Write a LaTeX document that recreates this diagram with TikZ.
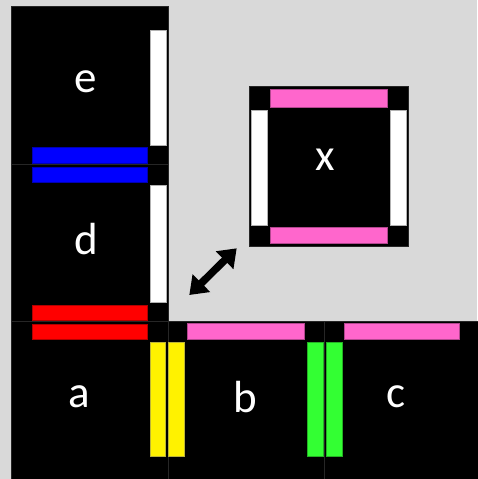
\documentclass[tikz,border=0pt]{standalone}
\usepackage{fontspec}
\setmainfont{Carlito}
\usetikzlibrary{arrows.meta}
\definecolor{bggray}{HTML}{D9D9D9}
\definecolor{pinkbar}{HTML}{FF66CC}
\definecolor{greenbar}{HTML}{33FF33}
\definecolor{edgegray}{HTML}{262626}
\tikzset{
  region/.style={fill=black, draw=edgegray, line width=0.6pt, inner sep=0pt},
  lbl/.style={text=white, font=\fontsize{45}{45}\selectfont, inner sep=0pt},
  bar/.style={fill=#1, draw=#1!70!black, line width=0.6pt},
  dblarrow/.style={line width=7.5pt, {Triangle[length=17pt,width=24pt]}-{Triangle[length=17pt,width=24pt]}, black}
}
\begin{document}
\begin{tikzpicture}[x=1pt,y=-1pt]
\fill[bggray] (0,0) rectangle (477,479);
\useasboundingbox (0,0) rectangle (477,479);
% regions
\node[region, minimum width=156.5pt, minimum height=158.7pt] (e) at (89.75,85.35) {};
\node[region, minimum width=156.5pt, minimum height=156.8pt] (d) at (89.75,243.1) {};
\node[region, minimum width=156.5pt, minimum height=160pt] (a) at (89.75,401.5) {};
\node[region, minimum width=156.5pt, minimum height=160pt] (b) at (246.25,401.5) {};
\node[region, minimum width=160pt, minimum height=160pt] (c) at (404.5,401.5) {};
\node[region, minimum width=159.7pt, minimum height=159.7pt] (x) at (328.85,166.15) {};
% bars in left column
\filldraw[bar=white] (150,30.3) rectangle (166,145);
\filldraw[bar=white] (150,185) rectangle (166,302.3);
\filldraw[bar=blue] (32.3,147.7) rectangle (147.3,163.7);
\filldraw[bar=blue] (32.3,167) rectangle (147.3,182.3);
\filldraw[bar=red] (32.3,305) rectangle (147.3,320.3);
\filldraw[bar=red] (32.3,324) rectangle (147.3,339.3);
% bars in bottom row
\filldraw[bar=yellow] (150,342.3) rectangle (165.7,456.7);
\filldraw[bar=yellow] (168.7,342.3) rectangle (184.7,456.7);
\filldraw[bar=pinkbar] (187.7,323.3) rectangle (304.7,339.3);
\filldraw[bar=pinkbar] (344.3,323.3) rectangle (459.3,339.3);
\filldraw[bar=greenbar] (307.3,342.3) rectangle (323,456.7);
\filldraw[bar=greenbar] (326,342.3) rectangle (342,456.7);
% bars of x
\filldraw[bar=pinkbar] (270.3,89) rectangle (387.7,107.7);
\filldraw[bar=pinkbar] (270.3,227.7) rectangle (387.7,243.7);
\filldraw[bar=white] (251.3,110.7) rectangle (267.7,225.3);
\filldraw[bar=white] (390.3,110.7) rectangle (406.3,225.3);
% labels
\node[lbl] (le) at (86,82) {e};
\node[lbl] (ld) at (86.5,239) {d};
\node[lbl] (la) at (79.7,397) {a};
\node[lbl] (lb) at (245,397) {b};
\node[lbl] (lc) at (396.5,397) {c};
\node[lbl] (lx) at (325,160) {x};
% arrow
\coordinate (arrS) at (189.3,295);
\coordinate (arrE) at (236.7,248.3);
\draw[dblarrow] (arrS) -- (arrE);
\end{tikzpicture}
\end{document}
